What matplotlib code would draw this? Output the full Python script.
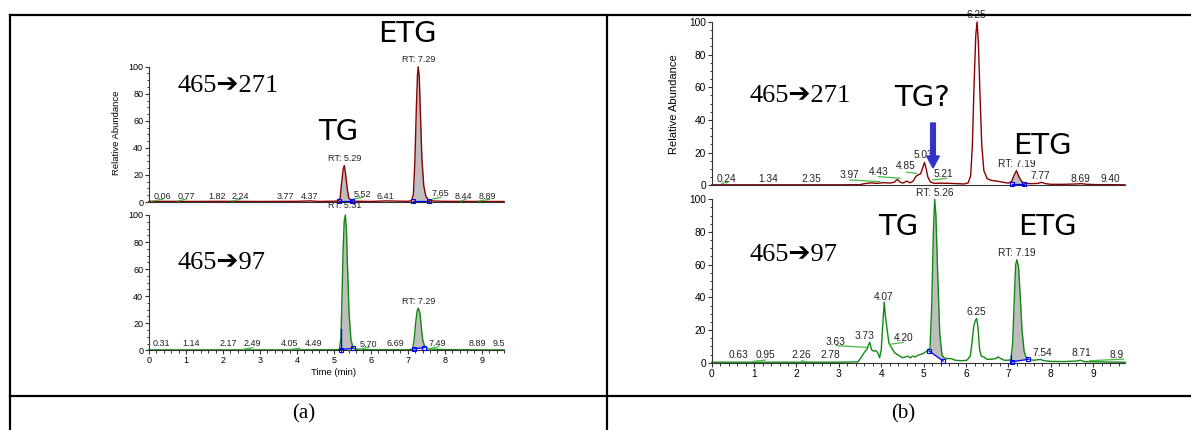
import numpy as np
import matplotlib
matplotlib.use("Agg")
import matplotlib.pyplot as plt
from matplotlib.lines import Line2D
from matplotlib.patches import FancyArrow
from matplotlib.ticker import MultipleLocator
from matplotlib.transforms import IdentityTransform

# ---- traces (time in min, relative abundance) ----
# (a) 465->271
a1_t = [0.0, 0.5, 1.0, 2.0, 3.0, 4.0, 4.37, 4.6, 5.0, 5.12, 5.17, 5.20, 5.25, 5.28, 5.31, 5.36,
        5.40, 5.46, 5.55, 6.0, 6.41, 7.0, 7.10, 7.15, 7.19, 7.23, 7.26, 7.28, 7.31, 7.34, 7.38,
        7.43, 7.49, 7.56, 7.7, 8.0, 9.0, 9.6]
a1_y = [0.4, 0.5, 0.4, 0.5, 0.4, 0.5, 0.8, 0.4, 0.6, 0.8, 3, 12, 24, 27, 22, 10,
        3, 1.2, 0.6, 0.4, 0.8, 0.5, 1.0, 6, 30, 70, 94, 100, 92, 65, 32,
        12, 4, 1.5, 0.7, 0.5, 0.4, 0.4]
# (a) 465->97
a2_t = [0.0, 0.5, 1.0, 2.0, 3.0, 4.0, 5.0, 5.15, 5.19, 5.22, 5.25, 5.28, 5.31, 5.34, 5.37, 5.41,
        5.46, 5.52, 5.6, 6.0, 7.0, 7.13, 7.17, 7.21, 7.25, 7.28, 7.30, 7.33, 7.36, 7.40, 7.45,
        7.55, 8.0, 9.0, 9.6]
a2_y = [0.3, 0.3, 0.3, 0.3, 0.3, 0.3, 0.4, 0.5, 10, 40, 75, 96, 100, 88, 60, 28,
        8, 1.5, 0.8, 0.4, 0.4, 0.8, 8, 20, 29, 31, 30, 27, 18, 8, 3,
        1, 0.5, 0.3, 0.3]
# (b) 465->271
b1_t = [0, 0.5, 1, 1.5, 2, 2.5, 3, 3.5, 3.6, 3.75, 3.9, 4.05, 4.2, 4.3, 4.38, 4.45, 4.52,
        4.6, 4.68, 4.75, 4.82, 4.88, 4.93, 4.98, 5.02, 5.06, 5.10, 5.16, 5.25, 5.4, 5.62,
        5.8, 5.95, 6.05, 6.11, 6.15, 6.19, 6.23, 6.26, 6.29, 6.33, 6.37, 6.42, 6.5, 6.6,
        6.72, 6.85, 7.0, 7.08, 7.13, 7.19, 7.25, 7.32, 7.40, 7.55, 7.7, 7.78, 7.88, 8.0,
        8.3, 8.6, 8.72, 8.85, 9.1, 9.4, 9.75]
b1_y = [0.3, 0.3, 0.3, 0.3, 0.3, 0.3, 0.3, 0.4, 1.0, 1.5, 1.2, 1.6, 1.4, 1.8, 3.6, 1.8, 1.4,
        2.6, 1.5, 2.5, 5.5, 6.5, 7, 11, 14, 10, 5, 2, 1.2, 1.3, 1.2,
        1.0, 0.8, 1.5, 6, 25, 62, 92, 100, 88, 55, 25, 9, 4, 3,
        2.6, 2, 1.3, 2.5, 6, 9, 5, 2, 1.2, 1.0, 1.2, 1.8, 1.0, 0.6,
        0.6, 0.8, 1.0, 0.6, 0.4, 0.4, 0.3]
# (b) 465->97
b2_t = [0, 0.5, 1, 1.5, 2, 2.5, 3, 3.45, 3.52, 3.57, 3.62, 3.66, 3.70, 3.73, 3.77, 3.82, 3.87,
        3.92, 3.96, 4.00, 4.04, 4.07, 4.10, 4.14, 4.18, 4.22, 4.27, 4.32, 4.38, 4.44, 4.50,
        4.56, 4.62, 4.68, 4.74, 4.80, 4.86, 4.92, 4.98, 5.04, 5.10, 5.15, 5.19, 5.23, 5.26,
        5.29, 5.33, 5.38, 5.43, 5.48, 5.55, 5.65, 5.75, 5.9, 6.02, 6.10, 6.14, 6.18, 6.22,
        6.25, 6.28, 6.32, 6.36, 6.42, 6.5, 6.6, 6.7, 6.76, 6.82, 6.9, 7.0, 7.06, 7.10, 7.14,
        7.17, 7.20, 7.24, 7.28, 7.32, 7.37, 7.42, 7.48, 7.6, 7.75, 7.85, 8.0, 8.3, 8.6, 8.7,
        8.8, 9.1, 9.4, 9.75]
b2_y = [0.3, 0.3, 0.3, 0.3, 0.3, 0.3, 0.3, 0.5, 3, 5, 7, 8, 11, 12.5, 8, 7, 7.5,
        6, 3, 8, 25, 37, 28, 20, 12, 10, 8, 6, 5, 4, 3,
        3.5, 4, 3, 4, 3.5, 4.5, 5, 5.5, 6.5, 7.5, 9, 35, 80, 100,
        90, 55, 18, 5, 3, 2.5, 2.5, 1.5, 1.2, 1.5, 4, 12, 22, 26,
        27, 22, 8, 4, 3.5, 2, 2.2, 2.5, 3.5, 2.5, 1.5, 1.5, 2, 12, 40,
        60, 63, 58, 40, 20, 7, 3, 2, 1.5, 2, 1.2, 0.8, 0.7, 1.0, 1.5,
        0.6, 0.5, 0.4, 0.3]

# ---- peak labels: (text, x, y) ----
a1_labels = [("0.06", 0.37, 3.9), ("0.77", 1.0, 3.9), ("1.82", 1.83, 3.9), ("2.24", 2.46, 3.9),
             ("3.77", 3.68, 3.9), ("4.37", 4.35, 4.4), ("5.52", 5.77, 5.9), ("6.41", 6.38, 4.4),
             ("7.65", 7.89, 6.4), ("8.44", 8.50, 3.9), ("8.89", 9.16, 3.9),
             ("RT: 5.29", 5.28, 32.5), ("RT: 7.29", 7.29, 105)]
a2_labels = [("0.31", 0.34, 4.7), ("1.14", 1.13, 4.7), ("2.17", 2.15, 4.7), ("2.49", 2.80, 4.7),
             ("4.05", 3.79, 4.7), ("4.49", 4.45, 4.7), ("5.70", 5.93, 4.4), ("6.69", 6.65, 4.7),
             ("7.49", 7.80, 4.7), ("8.89", 8.88, 4.7), ("9.5", 9.45, 4.7),
             ("RT: 7.29", 7.29, 36), ("RT: 5.31", 5.30, 107)]
b1_labels = [("0.24", 0.35, 3.9), ("1.34", 1.34, 3.9), ("2.35", 2.34, 3.9), ("3.97", 3.26, 6.5),
             ("4.43", 3.93, 8.0), ("4.85", 4.58, 11.8), ("5.03", 4.99, 18.4), ("5.21", 5.46, 7.0),
             ("RT: 7.19", 7.19, 13.0), ("7.77", 7.76, 5.7), ("8.69", 8.69, 4.0), ("9.40", 9.41, 4.0),
             ("6.25", 6.25, 104)]
b2_labels = [("0.63", 0.63, 4.7), ("0.95", 1.27, 4.7), ("2.26", 2.12, 4.7), ("2.78", 2.79, 4.7),
             ("3.63", 2.92, 12.9), ("3.73", 3.60, 16.5), ("4.07", 4.06, 40.4), ("4.20", 4.52, 15.0),
             ("6.25", 6.25, 30.8), ("RT: 7.19", 7.19, 67), ("7.54", 7.80, 5.7), ("8.71", 8.71, 5.7),
             ("8.9", 9.55, 4.7), ("RT: 5.26", 5.27, 104)]

# small green leader lines: (x0, y0, x1, y1)
a1_leaders = [(0.07, 0.7, 0.37, 2.0), (0.77, 0.7, 1.0, 2.0), (2.24, 0.7, 2.46, 2.0),
              (5.53, 2.2, 5.77, 3.4), (7.67, 2.2, 7.89, 3.4), (8.43, 0.7, 8.57, 2.0),
              (8.91, 0.7, 9.21, 2.0)]
a2_leaders = [(2.51, 0.5, 2.81, 2.0), (3.79, 0.5, 4.07, 1.5), (5.69, 0.5, 5.96, 2.5),
              (7.54, 1.0, 7.83, 2.7)]
b1_leaders = [(0.24, 1.2, 0.37, 1.8), (3.26, 3.3, 3.97, 2.2), (3.93, 5.3, 4.44, 4.3),
              (4.60, 8.0, 4.83, 7.3), (5.21, 3.3, 5.54, 4.3)]
b2_leaders = [(0.98, 0.8, 1.26, 1.6), (2.12, 1.2, 2.24, 0.6), (2.95, 10.4, 3.65, 9.4),
              (4.19, 11.2, 4.52, 12.4), (8.92, 1.2, 9.71, 2.2)]

# integrated peaks: (x0, y0, x1, y1) of the baseline
a1_peaks = [(5.15, 0.5, 5.50, 0.5), (7.13, 0.5, 7.58, 0.5)]
a2_peaks = [(5.18, 0.5, 5.52, 1.5), (7.16, 1.0, 7.44, 2.0)]
b1_peaks = [(7.08, 0.5, 7.37, 0.5)]
b2_peaks = [(5.13, 7.1, 5.46, 1.0), (7.08, 0.6, 7.46, 2.0)]

W, H = 1191, 430
RED = "#8B0000"
GREEN = "#118811"
LEAD = "#44BB44"
SANS = "Liberation Sans"

fig = plt.figure(figsize=(W / 100, H / 100), dpi=100)


def px_axes(x0, y_top, x1, y_bot):
    return fig.add_axes([x0 / W, 1 - y_bot / H, (x1 - x0) / W, (y_bot - y_top) / H])


def style(ax, xmax, fs, xticks):
    ax.set_xlim(0, xmax)
    ax.set_ylim(0, 100)
    ax.set_facecolor("none")
    for s in ["top", "right"]:
        ax.spines[s].set_visible(False)
    for s in ["left", "bottom"]:
        ax.spines[s].set_linewidth(0.8)
        ax.spines[s].set_color("#333333")
    ax.yaxis.set_major_locator(MultipleLocator(20))
    ax.yaxis.set_minor_locator(MultipleLocator(5))
    ax.tick_params(axis="y", which="major", length=3.2, width=0.8, color="#333333",
                   labelsize=fs, pad=1)
    ax.tick_params(axis="y", which="minor", length=1.8, width=0.7, color="#333333")
    if xticks:
        ax.xaxis.set_major_locator(MultipleLocator(1))
        ax.xaxis.set_minor_locator(MultipleLocator(0.2))
        ax.tick_params(axis="x", which="major", length=3.2, width=0.8, color="#333333",
                       labelsize=fs, pad=1)
        ax.tick_params(axis="x", which="minor", length=2.2, width=0.7, color="#333333")
    else:
        ax.tick_params(axis="x", which="both", length=0, labelbottom=False)
    for lab in ax.get_xticklabels() + ax.get_yticklabels():
        lab.set_family(SANS)


def draw(ax, t, y, color, labels, leaders, peaks, fs):
    t = np.array(t)
    y = np.array(y)
    for x0, y0, x1, y1 in peaks:
        sel = (t > x0) & (t < x1)
        ts = np.concatenate([[x0], t[sel], [x1]])
        ys = np.concatenate([[np.interp(x0, t, y)], y[sel], [np.interp(x1, t, y)]])
        base = y0 + (ts - x0) * (y1 - y0) / (x1 - x0)
        ax.fill_between(ts, base, ys, color="#BEBEBE", lw=0, zorder=1)
    ax.plot(t, y, color=color, lw=1.0, zorder=2, clip_on=False)
    for x0, y0, x1, y1 in peaks:
        ax.plot([x0, x1], [y0, y1], color="blue", lw=0.9, marker="s", ms=3.5,
                mfc="none", mew=0.8, zorder=3, clip_on=False)
    for x0, y0, x1, y1 in leaders:
        ax.plot([x0, x1], [y0, y1], color=LEAD, lw=0.9, zorder=2, clip_on=False)
    for txt, x, yy in labels:
        ax.text(x, yy, txt, fontsize=fs, family=SANS, ha="center", va="center",
                color="#222222", zorder=4)


# (a)
ax_a1 = px_axes(149, 66.7, 504, 202)
ax_a2 = px_axes(149, 215, 504, 350.3)
style(ax_a1, 9.6, 6.5, False)
style(ax_a2, 9.6, 6.5, True)
draw(ax_a1, a1_t, a1_y, RED, a1_labels, a1_leaders, a1_peaks, 6.5)
draw(ax_a2, a2_t, a2_y, GREEN, a2_labels, a2_leaders, a2_peaks, 6.5)
ax_a2.plot([5.18, 5.18], [0, 16], color="blue", lw=1.0, zorder=3)
ax_a1.set_ylabel("Relative Abundance", fontsize=6.8, family=SANS)
ax_a1.yaxis.set_label_coords(-0.079, 0.51)
ax_a2.set_xlabel("Time (min)", fontsize=6.8, family=SANS)
ax_a2.xaxis.set_label_coords(0.52, -0.13)

# (b)
ax_b1 = px_axes(711.7, 22, 1125, 185.3)
ax_b2 = px_axes(711.7, 199.3, 1125, 362.7)
style(ax_b1, 9.75, 7.3, False)
style(ax_b2, 9.75, 7.3, True)
draw(ax_b1, b1_t, b1_y, RED, b1_labels, b1_leaders, b1_peaks, 7.3)
draw(ax_b2, b2_t, b2_y, GREEN, b2_labels, b2_leaders, b2_peaks, 7.3)
ax_b2.plot([7.07, 7.07], [0, 4.5], color="blue", lw=1.0, zorder=3)
ax_b1.set_ylabel("Relative Abundance", fontsize=8, family=SANS)
ax_b1.yaxis.set_label_coords(-0.08, 0.5)


def ftext(x, y, s, **kw):
    return fig.text(x / W, 1 - y / H, s, **kw)


hand = dict(fontsize=21, family="DejaVu Sans", ha="center", va="center",
            bbox=dict(facecolor="white", edgecolor="none", pad=0))
serif = dict(fontsize=19, family=["Liberation Serif", "DejaVu Sans"], ha="left", va="center")

ftext(407, 34, "ETG", **hand)
ftext(338, 132, "TG", **hand)
ftext(177, 86, "465\u2794271", **serif)
ftext(177, 263, "465\u279497", **serif)

ftext(750, 96, "465\u2794271", **serif)
ftext(922, 98, "TG?", **hand)
ftext(1042, 146, "ETG", **hand)
ftext(898, 227, "TG", **hand)
ftext(1047, 227, "ETG", **hand)
ftext(750, 255, "465\u279497", **serif)

arrow = FancyArrow(933, H - 123, 0, -(168 - 123), width=4.7, head_width=12.7,
                   head_length=12, length_includes_head=True, color="#3333CC",
                   transform=IdentityTransform(), zorder=5)
fig.add_artist(arrow)

# table frame
for x0, y0, x1, y1 in [(10, 15, W, 15), (10, 15, 10, H), (607, 15, 607, H), (10, 396, W, 396)]:
    fig.add_artist(Line2D([x0 / W, x1 / W], [1 - y0 / H, 1 - y1 / H], color="black",
                          lw=1.6, transform=fig.transFigure, zorder=6))

ftext(304, 414, "(a)", fontsize=15, family="Liberation Serif", ha="center", va="center")
ftext(903, 414, "(b)", fontsize=15, family="Liberation Serif", ha="center", va="center")

fig.savefig("out.png", dpi=100)
